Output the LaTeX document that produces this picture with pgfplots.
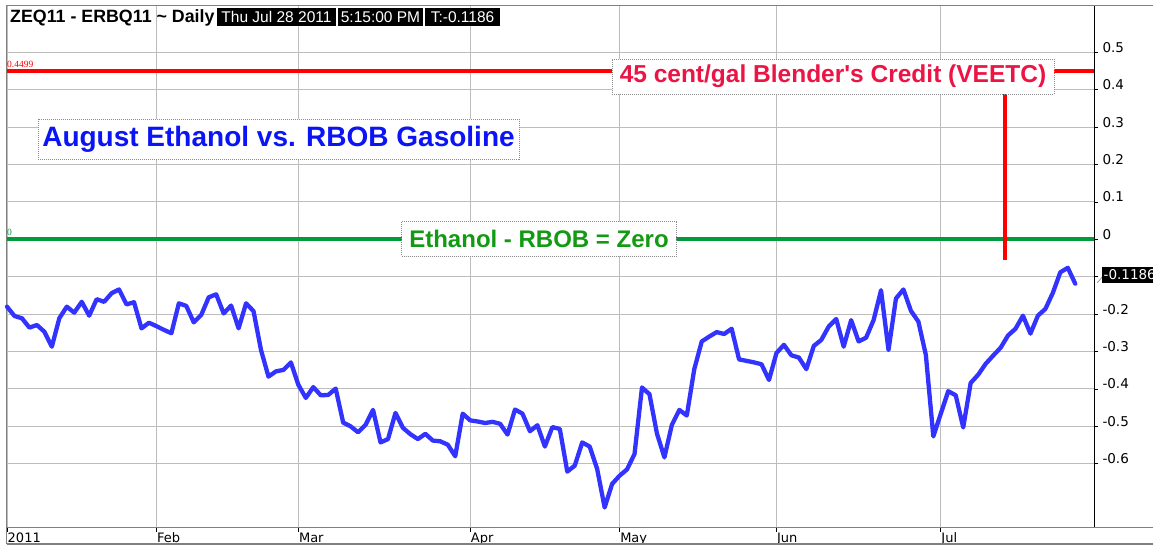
\documentclass[border=0pt]{standalone}
\usepackage{pgfplots}
\pgfplotsset{compat=1.18}
\usepackage{fontspec}
\setmainfont{Liberation Sans}[Ligatures=TeXOff]
\newfontfamily\dv{DejaVu Sans}
\newfontfamily\lserif{Liberation Serif}
\definecolor{blueline}{HTML}{3333FF}
\definecolor{bluetext}{HTML}{0A14F5}
\definecolor{greenline}{HTML}{009A3A}
\definecolor{greentext}{HTML}{129A12}
\definecolor{redtext}{HTML}{EC1445}
\definecolor{gridgray}{HTML}{BDBDBD}
\definecolor{framegray}{HTML}{808080}

% trading day index (0 = Jan 3 2011), ZEQ11 - ERBQ11 spread
\pgfplotstableread{
i v
0 -0.180
1 -0.205
2 -0.211
3 -0.236
4 -0.229
5 -0.247
6 -0.287
7 -0.211
8 -0.180
9 -0.196
10 -0.167
11 -0.204
12 -0.160
13 -0.167
14 -0.144
15 -0.134
16 -0.174
17 -0.168
18 -0.238
19 -0.223
20 -0.232
21 -0.242
22 -0.251
23 -0.171
24 -0.178
25 -0.222
26 -0.202
27 -0.155
28 -0.147
29 -0.198
30 -0.177
31 -0.238
32 -0.171
33 -0.192
34 -0.296
35 -0.367
36 -0.353
37 -0.349
38 -0.329
39 -0.389
40 -0.424
41 -0.395
42 -0.417
43 -0.416
44 -0.399
45 -0.490
46 -0.500
47 -0.516
48 -0.496
49 -0.456
50 -0.543
51 -0.534
52 -0.464
53 -0.504
54 -0.521
55 -0.534
56 -0.520
57 -0.538
58 -0.540
59 -0.549
60 -0.580
61 -0.466
62 -0.484
63 -0.487
64 -0.491
65 -0.488
66 -0.493
67 -0.522
68 -0.455
69 -0.466
70 -0.513
71 -0.497
72 -0.554
73 -0.502
74 -0.507
75 -0.621
76 -0.605
77 -0.543
78 -0.554
79 -0.614
80 -0.717
81 -0.654
82 -0.632
83 -0.615
84 -0.574
85 -0.396
86 -0.414
87 -0.519
88 -0.583
89 -0.496
90 -0.456
91 -0.471
92 -0.347
93 -0.273
94 -0.260
95 -0.248
96 -0.253
97 -0.239
98 -0.321
99 -0.325
100 -0.329
101 -0.334
102 -0.376
103 -0.304
104 -0.282
105 -0.310
106 -0.316
107 -0.347
108 -0.285
109 -0.269
110 -0.233
111 -0.213
112 -0.287
113 -0.216
114 -0.273
115 -0.263
116 -0.216
117 -0.136
118 -0.296
119 -0.158
120 -0.134
121 -0.191
122 -0.220
123 -0.309
124 -0.527
125 -0.466
126 -0.406
127 -0.417
128 -0.503
129 -0.384
130 -0.362
131 -0.333
132 -0.311
133 -0.290
134 -0.257
135 -0.239
136 -0.204
137 -0.252
138 -0.204
139 -0.186
140 -0.143
141 -0.088
142 -0.076
143 -0.1186
}\spread

\begin{document}
\begin{tikzpicture}
\path[use as bounding box] (0pt,0pt) rectangle (1153pt,546pt);
\begin{axis}[
    at={(6.5pt,18.3pt)}, anchor=south west,
    scale only axis, width=1087.8pt, height=521.7pt,
    xmin=-0.07, xmax=145.55, ymin=-0.771, ymax=0.624,
    axis line style={draw=framegray, line width=1pt},
    xtick={0,20,39,62,82,103,125},
    xticklabels={2011,Feb,Mar,Apr,May,Jun,Jul},
    xtick pos=bottom,
    xticklabel style={anchor=north west, inner sep=0pt, xshift=0.5pt, yshift=-1pt,
        font=\dv\fontsize{13}{14}\selectfont},
    ytick={-0.6,-0.5,-0.4,-0.3,-0.2,-0.1,0,0.1,0.2,0.3,0.4,0.5},
    yticklabels={-0.6,-0.5,-0.4,-0.3,-0.2,{},0,0.1,0.2,0.3,0.4,0.5},
    ytick pos=right, yticklabel pos=right,
    yticklabel style={anchor=base west, inner sep=0pt, xshift=4pt,
        font=\dv\fontsize{13.5}{14}\selectfont},
    tick align=outside, major tick length=4pt,
    tick style={black, line width=0.8pt},
    xmajorgrids, ymajorgrids,
    grid style={draw=gridgray, line width=1pt},
    clip=false,
]
\addplot[red, line width=4pt] coordinates {(-0.07,0.4499) (145.55,0.4499)};
\addplot[greenline, line width=4pt] coordinates {(-0.07,0) (145.55,0)};
\addplot[red, line width=4pt] coordinates {(133.6,0.388) (133.6,-0.055)};
\addplot[blueline, line width=4.3pt, line join=round, line cap=round] table[x=i, y=v] {\spread};
\draw[black, line width=1.2pt] (rel axis cs:1,0) -- (rel axis cs:1,1);
\end{axis}
% frame outside the axis
\draw[framegray, line width=1pt] (1094.3pt,540pt) -- (1153pt,540pt);
\draw[framegray, line width=1.5pt] (1094.3pt,18.3pt) -- (1153pt,18.3pt);
\draw[framegray, line width=1.2pt] (6.5pt,2pt) -- (1153pt,2pt);
\draw[framegray, line width=1pt] (6.5pt,2pt) -- (6.5pt,18.3pt);
% header
\node[anchor=base west, inner sep=0pt, font=\bfseries\fontsize{17.8}{20}\selectfont]
  at (10pt,523.3pt) {ZEQ11 - ERBQ11 \textasciitilde{} Daily};
\fill[black] (217pt,520pt) rectangle (336pt,537.7pt);
\fill[black] (338pt,520pt) rectangle (423pt,537.7pt);
\fill[black] (425pt,520pt) rectangle (500pt,537.7pt);
\begin{scope}[every node/.style={anchor=base, inner sep=0pt, text=white, font=\fontsize{15.5}{17}\selectfont}]
\node at (276.5pt,523pt) {Thu Jul 28 2011};
\node at (380.5pt,523pt) {5:15:00 PM};
\node at (462.5pt,523pt) {T:-0.1186};
\end{scope}
% small line labels
\node[anchor=base west, inner sep=0pt, text=red, font=\lserif\fontsize{9.5}{10}\selectfont] at (7pt,478.5pt) {0.4499};
\node[anchor=base west, inner sep=0pt, text=greenline, font=\lserif\fontsize{9.5}{10}\selectfont] at (7pt,310pt) {0};
% annotation boxes
\tikzset{note/.style={draw=black!45, dash pattern=on 1pt off 1pt, line width=0.8pt, fill=white, inner sep=0pt, font=\bfseries}}
\node[note, minimum width=481pt, minimum height=40pt, text=bluetext, font=\bfseries\fontsize{28}{30}\selectfont] at (278.5pt,406.7pt) {August Ethanol vs. RBOB Gasoline};
\node[note, minimum width=442pt, minimum height=35pt, text=redtext, font=\bfseries\fontsize{24.5}{26}\selectfont] at (833pt,469.5pt) {45 cent/gal Blender's Credit (VEETC)};
\node[note, minimum width=274.6pt, minimum height=34.3pt, text=greentext, font=\bfseries\fontsize{24}{26}\selectfont] at (539pt,307.2pt) {Ethanol - RBOB = Zero};
% last value flag
\draw[black!50, line width=0.6pt] (1097.3pt,263.3pt) -- (1102pt,268.7pt);
\fill[black] (1102pt,263pt) rectangle (1160pt,279.3pt);
\node[anchor=base west, inner sep=0pt, text=white, font=\dv\fontsize{13.5}{14}\selectfont] at (1103.5pt,266pt) {-0.1186};
\end{tikzpicture}
\end{document}
